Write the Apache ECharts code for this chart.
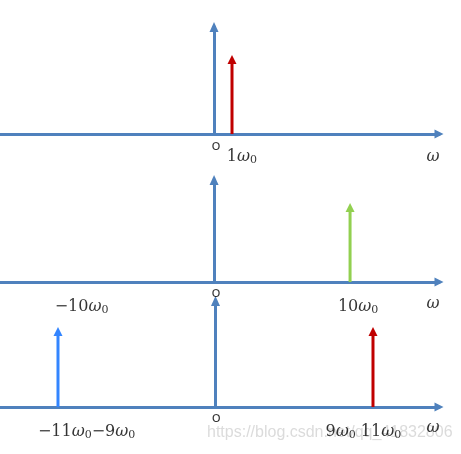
<!DOCTYPE html>
<html><head><meta charset="utf-8">
<script src="https://cdn.jsdelivr.net/npm/echarts@6/dist/echarts.min.js"></script>
<style>html,body{margin:0;padding:0;background:#fff}#c{width:461px;height:454px}</style>
</head><body><div id="c"></div>
<script>
// ---- data (frequency positions in units of ω0, impulse heights) ----
const p1Pos = [1];
const p1Amp = [1];
const p1Col = ['#c00000'];
const p1Labels = ['o', '1ω0'];
const p1LabelX = [0.11, 1.55];

const p2Pos = [10];
const p2Amp = [1];
const p2Col = ['#92d050'];
const p2Labels = ['o', '−10ω0', '10ω0'];
const p2LabelX = [0.15, -9.74, 10.59];

const p3Pos = [-11, 11];
const p3Amp = [1, 1];
const p3Col = ['#3385ff', '#c00000'];
const p3Labels = ['o', '−11ω0−9ω0', '9ω0 11ω0'];
const p3LabelX = [0.05, -9.0, 10.33];

const axisName = 'ω';
const xMins = [-11.89, -15.74, -15.05];
const xMaxs = [12.5, 16.54, 15.61];
const yMaxs = [1.354, 1.29, 1.325];

// ---- layout ----
const AX = '#4f81bd';
const grids = [
  {left: 0, right: 22, top: 27, height: 107},
  {left: 0, right: 22, top: 180, height: 102},
  {left: 0, right: 22, top: 301, height: 106}
];
const panels = [
  {pos: p1Pos, amp: p1Amp, col: p1Col, labels: p1Labels, lx: p1LabelX, oDy: 12, lDy: 23, wDy: 23},
  {pos: p2Pos, amp: p2Amp, col: p2Col, labels: p2Labels, lx: p2LabelX, oDy: 11, lDy: 25, wDy: 22},
  {pos: p3Pos, amp: p3Amp, col: p3Col, labels: p3Labels, lx: p3LabelX, oDy: 11, lDy: 25, wDy: 21}
];

function toRich(s) {
  if (s === 'o') return '{o|o}';
  const parts = s.split('ω0');
  let out = '';
  parts.forEach((p, i) => {
    if (p) out += '{n|' + p + '}';
    if (i < parts.length - 1) out += '{w|ω}{s|0}';
  });
  return out;
}
const rich = {
  n: {fontFamily: 'DejaVu Serif', fontSize: 16, color: '#000', lineHeight: 18},
  w: {fontFamily: 'DejaVu Serif', fontStyle: 'italic', fontSize: 16, color: '#000', lineHeight: 18},
  s: {fontFamily: 'DejaVu Serif', fontSize: 11, color: '#000', verticalAlign: 'bottom', lineHeight: 12, padding: [6, 0, 0, 0]},
  o: {fontFamily: 'Open Sans', fontSize: 15, color: '#000'},
  ax: {fontFamily: 'DejaVu Serif', fontStyle: 'italic', fontSize: 16, color: '#000'}
};

const xAxis = [], yAxis = [], series = [];
panels.forEach((p, i) => {
  xAxis.push({
    gridIndex: i, type: 'value', min: xMins[i], max: xMaxs[i],
    axisLine: {show: true, lineStyle: {color: AX, width: 3}, symbol: ['none', 'triangle'], symbolSize: [9, 9], symbolOffset: [0, 0]},
    axisTick: {show: false}, axisLabel: {show: false}, splitLine: {show: false}
  });
  yAxis.push({
    gridIndex: i, type: 'value', min: 0, max: yMaxs[i],
    axisLine: {show: true, onZero: true, lineStyle: {color: AX, width: 3}, symbol: ['none', 'triangle'], symbolSize: [9, 10]},
    axisTick: {show: false}, axisLabel: {show: false}, splitLine: {show: false}
  });
  series.push({
    type: 'custom', xAxisIndex: i, yAxisIndex: i,
    data: p.pos.map((x, k) => [x, p.amp[k], k]),
    renderItem: function (params, api) {
      const x = api.value(0), h = api.value(1), k = api.value(2);
      const b = api.coord([x, 0]);
      const t = api.coord([x, h]);
      const c = p.col[k];
      const head = 9, hw = 4.5;
      return {
        type: 'group',
        children: [
          {type: 'line', shape: {x1: b[0], y1: b[1], x2: t[0], y2: t[1] + head - 1}, style: {stroke: c, lineWidth: 3}},
          {type: 'polygon', shape: {points: [[t[0], t[1]], [t[0] - hw, t[1] + head], [t[0] + hw, t[1] + head]]}, style: {fill: c}}
        ]
      };
    },
    silent: true, z: 3
  });
  const ldata = p.labels.map((s, k) => ({value: [p.lx[k], 0], label: {formatter: toRich(s), offset: [0, s === 'o' ? p.oDy : p.lDy]}}));
  const unit = 439 / (xMaxs[i] - xMins[i]);
  ldata.push({value: [xMins[i] + 433 / unit, 0], label: {formatter: '{ax|' + axisName + '}', offset: [0, p.wDy]}});
  series.push({
    type: 'scatter', xAxisIndex: i, yAxisIndex: i, symbolSize: 0, silent: true,
    label: {show: true, position: 'inside', rich: rich},
    data: ldata
  });
});

const chart = echarts.init(document.getElementById('c'), null, {renderer: 'canvas'});
chart.setOption({
  animation: false,
  backgroundColor: '#fff',
  grid: grids,
  xAxis: xAxis,
  yAxis: yAxis,
  series: series,
  graphic: [{
    type: 'text', left: 207, top: 425, silent: true,
    style: {text: 'https://blog.csdn.net/qq_41832806', font: '16px "Liberation Sans"', fill: 'rgba(190,190,190,0.55)'}
  }]
});
</script></body></html>
